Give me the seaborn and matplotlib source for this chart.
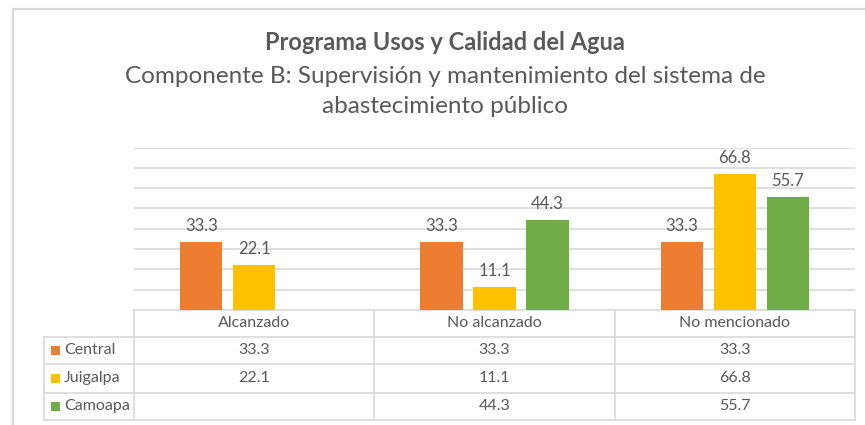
#!/usr/bin/env python3
"""
Bar chart with data table: Programa Usos y Calidad del Agua, Componente B.
"""

import numpy as np
import pandas as pd
import matplotlib
matplotlib.use("Agg")
import matplotlib.pyplot as plt
import seaborn as sns

# --- Data ---
CATEGORIES = ["Alcanzado", "No alcanzado", "No mencionado"]
SERIES = ["Central", "Juigalpa", "Camoapa"]
CENTRAL = [33.3, 33.3, 33.3]
JUIGALPA = [22.1, 11.1, 66.8]
CAMOAPA = [np.nan, 44.3, 55.7]

TITLE = "Programa Usos y Calidad del Agua"
SUBTITLE = "Componente B: Supervisión y mantenimiento del sistema de\nabastecimiento público"

COLORS = ["#ED7D31", "#FFC000", "#70AD47"]
TEXT = "#595959"
GRID = "#D9D9D9"

W, H = 865, 425


def fx(px):
    return px / W


def fy(py):
    return 1 - py / H


def main() -> None:
    sns.set_theme(style="white")
    plt.rcParams["font.family"] = ["Lato", "DejaVu Sans"]

    rows = []
    for name, vals in zip(SERIES, [CENTRAL, JUIGALPA, CAMOAPA]):
        for cat, v in zip(CATEGORIES, vals):
            rows.append({"categoria": cat, "serie": name, "valor": v})
    df = pd.DataFrame(rows)

    fig = plt.figure(figsize=(W / 100, H / 100), dpi=100)

    # overlay in pixel coordinates for border, titles and table
    ov = fig.add_axes([0, 0, 1, 1])
    ov.set_xlim(0, W)
    ov.set_ylim(H, 0)
    ov.axis("off")

    # chart border (top and left visible)
    ov.plot([12.5, W], [8.5, 8.5], color=GRID, lw=1.6)
    ov.plot([12.5, 12.5], [8.5, H], color=GRID, lw=1.6)

    ov.text(445, 42, TITLE, ha="center", va="center", fontsize=17,
            fontweight="bold", color=TEXT)
    ov.text(445, 91.5, SUBTITLE, ha="center", va="center", fontsize=17.5,
            color=TEXT, linespacing=1.5)

    # main bar axes
    x0, x1, ybase, ytop = 134, 855, 310, 147.5
    ax = fig.add_axes([fx(x0), fy(ybase), fx(x1) - fx(x0), fy(ytop) - fy(ybase)])
    sns.barplot(data=df, x="categoria", y="valor", hue="serie", order=CATEGORIES,
                hue_order=SERIES, palette=COLORS, saturation=1, width=0.66,
                gap=0.2, linewidth=0, ax=ax, legend=False)
    ax.set_ylim(0, 80)
    ax.set_xlim(-0.5, len(CATEGORIES) - 0.5)
    ax.set_yticks(np.arange(10, 81, 10))
    ax.yaxis.grid(True, color=GRID, lw=1.2)
    ax.set_axisbelow(True)
    ax.tick_params(left=False, bottom=False, labelleft=False, labelbottom=False)
    for s in ax.spines.values():
        s.set_visible(False)
    ax.set_xlabel("")
    ax.set_ylabel("")
    ax.patch.set_alpha(0)
    for cont in ax.containers:
        labels = ["" if np.isnan(v) else f"{v:.1f}" for v in cont.datavalues]
        ax.bar_label(cont, labels=labels, padding=6, fontsize=12, color=TEXT)

    # data table
    col_edges = np.linspace(x0, x1, len(CATEGORIES) + 1)
    tleft = 44
    row_edges = [310, 336.5, 364, 392.5, 420]
    lw = 1.2
    ov.plot([x0, x1], [row_edges[0], row_edges[0]], color=GRID, lw=lw)
    for yy in row_edges[1:]:
        ov.plot([tleft, x1], [yy, yy], color=GRID, lw=lw)
    for xx in col_edges:
        ov.plot([xx, xx], [row_edges[0], row_edges[-1]], color=GRID, lw=lw)
    ov.plot([tleft, tleft], [row_edges[1], row_edges[-1]], color=GRID, lw=lw)

    centers = (col_edges[:-1] + col_edges[1:]) / 2
    hy = (row_edges[0] + row_edges[1]) / 2
    for cx, cat in zip(centers, CATEGORIES):
        ov.text(cx, hy, cat, ha="center", va="center", fontsize=11.5, color=TEXT)
    for i, (name, vals, col) in enumerate(zip(SERIES, [CENTRAL, JUIGALPA, CAMOAPA], COLORS)):
        ry = (row_edges[i + 1] + row_edges[i + 2]) / 2
        ov.add_patch(plt.Rectangle((51, ry - 4.5), 9, 9, color=col, lw=0))
        ov.text(64, ry, name, ha="left", va="center", fontsize=11.5, color=TEXT)
        for cx, v in zip(centers, vals):
            if not np.isnan(v):
                ov.text(cx, ry, f"{v:.1f}", ha="center", va="center",
                        fontsize=11.5, color=TEXT)

    fig.savefig("out.png", dpi=100)
    plt.close(fig)


if __name__ == "__main__":
    main()
